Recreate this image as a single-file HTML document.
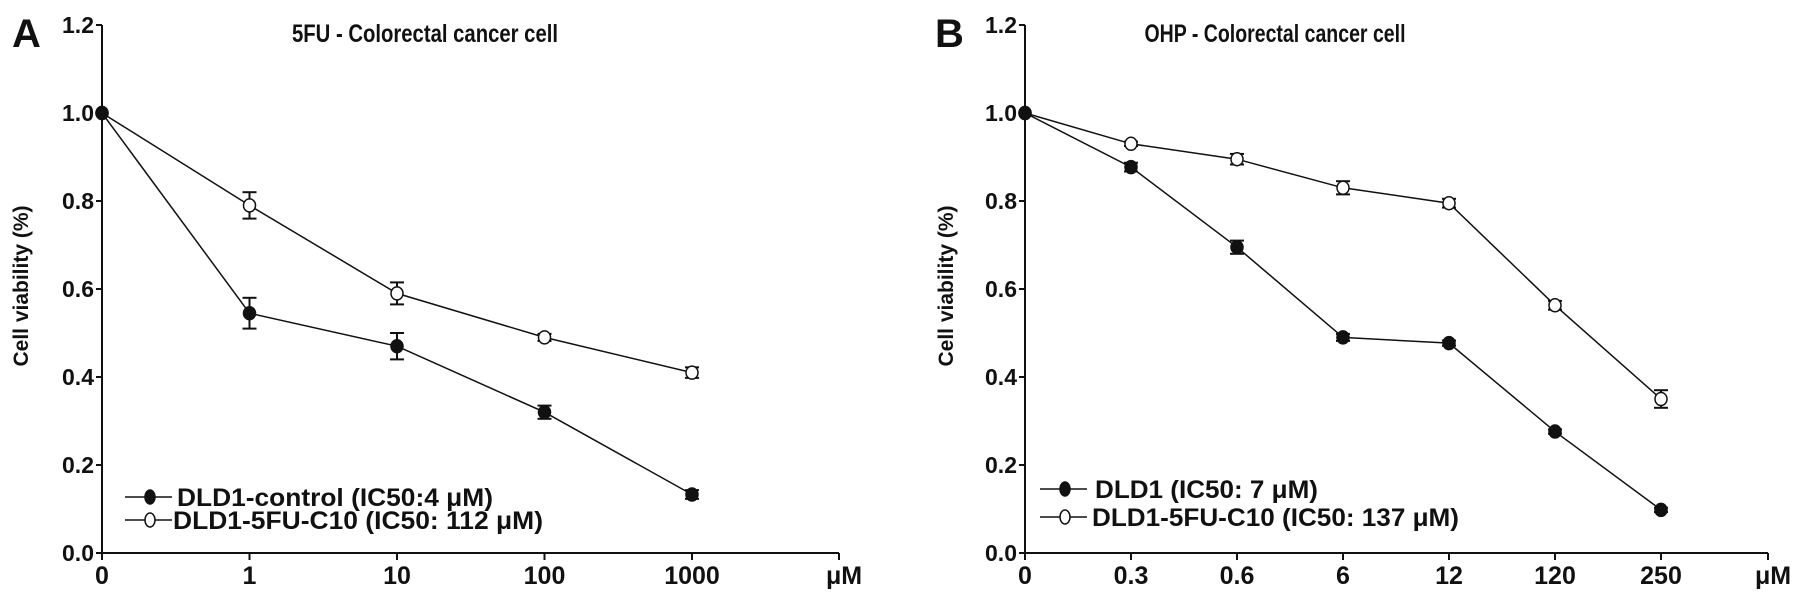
<!DOCTYPE html>
<html><head><meta charset="utf-8"><style>
html,body{margin:0;padding:0;background:#fff;}
svg text{font-family:"Liberation Sans Narrow","Liberation Sans",sans-serif;font-weight:bold;fill:#111;}
</style></head><body>
<svg id="chart" width="1795" height="601" viewBox="0 0 1795 601" xmlns="http://www.w3.org/2000/svg"></svg>
<script>
// Panel A data
const catsA = ["0","1","10","100","1000"];
const ctrlA = [1.0, 0.545, 0.47, 0.32, 0.133];
const ctrlErrA = [0, 0.035, 0.03, 0.015, 0.01];
const c10A = [1.0, 0.79, 0.59, 0.49, 0.41];
const c10ErrA = [0, 0.03, 0.025, 0.008, 0.012];
// Panel B data
const catsB = ["0","0.3","0.6","6","12","120","250"];
const ctrlB = [1.0, 0.877, 0.695, 0.49, 0.477, 0.276, 0.098];
const ctrlErrB = [0, 0.01, 0.015, 0.008, 0.006, 0.005, 0.005];
const c10B = [1.0, 0.93, 0.895, 0.83, 0.795, 0.563, 0.35];
const c10ErrB = [0, 0.005, 0.012, 0.015, 0.01, 0.01, 0.02];
const yTicks = ["0.0","0.2","0.4","0.6","0.8","1.0","1.2"];

const NS="http://www.w3.org/2000/svg";
const svg=document.getElementById('chart');
function mk(tag,attrs,parent){const e=document.createElementNS(NS,tag);for(const k in attrs)e.setAttribute(k,attrs[k]);(parent||svg).appendChild(e);return e;}

function panel(p){
  const g=mk('g',{});
  
  
  const y=v=>553-v/1.2*528;
  const x=i=>p.x0+i*p.step;
  const ya=mk('line',{x1:p.x0,y1:y(1.2),x2:p.x0,y2:y(0),stroke:'#111','stroke-width':2},g);
  
  
  const xa=mk('line',{x1:p.x0,y1:y(0),x2:p.xEnd,y2:y(0),stroke:'#111','stroke-width':2},g);
  
  
  mk('line',{x1:p.xEnd,y1:y(0),x2:p.xEnd,y2:y(0)+7,stroke:'#111','stroke-width':2},g);
  yTicks.forEach((t,i)=>{
    const v=parseFloat(t);
    mk('line',{x1:p.x0-6,y1:y(v),x2:p.x0,y2:y(v),stroke:'#111','stroke-width':2},g);
    const tx=mk('text',{x:p.x0-8,y:y(v)+8,'text-anchor':'end','font-size':23},g);
    tx.textContent=t;
    
    
  });
  p.cats.forEach((c,i)=>{
    mk('line',{x1:x(i),y1:y(0),x2:x(i),y2:y(0)+7,stroke:'#111','stroke-width':2},g);
    const tx=mk('text',{x:x(i),y:584,'text-anchor':'middle','font-size':25},g);
    tx.textContent=c;
    
    
  });
  const um=mk('text',{x:p.xEnd-13,y:584,'font-size':25},g);
  um.textContent='μM';
  
  
  const yt=mk('text',{x:0,y:0,'text-anchor':'middle','font-size':21,transform:`translate(${p.ylabX},286) rotate(-90)`},g);
  yt.textContent='Cell viability (%)';
  
  
  const ti=mk('text',{x:p.titleX-p.titleW/2,y:42,'font-size':25,textLength:p.titleW,lengthAdjust:'spacingAndGlyphs'},g);
  ti.textContent=p.title;
  
  
  const lt=mk('text',{x:p.letterX,y:47,'font-size':40},g);
  lt.textContent=p.letter;
  
  
  [[p.c10,p.c10Err,'#fff','series-resistant'],[p.ctrl,p.ctrlErr,'#111','series-control']].forEach(([vals,errs,fill,nm])=>{
    const sg=mk('g',{},g);
    
    
    mk('polyline',{points:vals.map((v,i)=>x(i)+','+y(v)).join(' '),fill:'none',stroke:'#111','stroke-width':1.5},sg);
    vals.forEach((v,i)=>{
      const e=errs[i];
      if(e>0){
        mk('line',{x1:x(i),y1:y(v+e),x2:x(i),y2:y(v-e),stroke:'#111','stroke-width':2},sg);
        mk('line',{x1:x(i)-7,y1:y(v+e),x2:x(i)+7,y2:y(v+e),stroke:'#111','stroke-width':2},sg);
        mk('line',{x1:x(i)-7,y1:y(v-e),x2:x(i)+7,y2:y(v-e),stroke:'#111','stroke-width':2},sg);
      }
      const m=mk('ellipse',{cx:x(i),cy:y(v),rx:6,ry:6.5,fill:fill,stroke:'#111','stroke-width':1.5},sg);
      
      
    });
  });
  [[p.leg[0],'#111',p.legY[0],p.legT[0],p.legW[0]],[p.leg[1],'#fff',p.legY[1],p.legT[1],p.legW[1]]].forEach(([txt,fill,ly,tx0,tw])=>{
    const lg=mk('g',{},g);
    
    
    mk('line',{x1:p.legX-25,y1:ly,x2:p.legX+22,y2:ly,stroke:'#111','stroke-width':1.5},lg);
    mk('ellipse',{cx:p.legX,cy:ly,rx:5,ry:7,fill:fill,stroke:'#111','stroke-width':1.5},lg);
    const t=mk('text',{x:tx0,y:ly+9,'font-size':25,textLength:tw,lengthAdjust:'spacingAndGlyphs'},lg);
    t.textContent=txt;
  });
}
panel({name:'panel-a',x0:102,step:147.5,xEnd:839,cats:catsA,ctrl:ctrlA,ctrlErr:ctrlErrA,c10:c10A,c10Err:c10ErrA,
  ylabX:28,title:'5FU - Colorectal cancer cell',titleX:425,titleW:266,letter:'A',letterX:12,
  leg:['DLD1-control (IC50:4 μM)','DLD1-5FU-C10 (IC50: 112 μM)'],legX:150,legY:[497,520],legT:[177,173],legW:[316,370]});
panel({name:'panel-b',x0:1025,step:106,xEnd:1768,cats:catsB,ctrl:ctrlB,ctrlErr:ctrlErrB,c10:c10B,c10Err:c10ErrB,
  ylabX:953,title:'OHP - Colorectal cancer cell',titleX:1275,titleW:261,letter:'B',letterX:935,
  leg:['DLD1 (IC50: 7 μM)','DLD1-5FU-C10 (IC50: 137 μM)'],legX:1065,legY:[489,517],legT:[1095,1092],legW:[223,367]});
</script>
</body></html>
